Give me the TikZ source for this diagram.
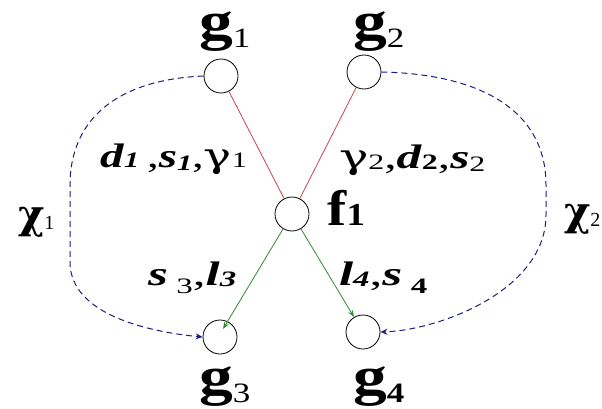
\documentclass[tikz,border=0pt]{standalone}
\usepackage{graphicx}
\usepackage{fontspec}
\setmainfont{Liberation Serif}
\newfontfamily\grk{DejaVu Serif}
\usetikzlibrary{arrows.meta}
\newcommand\fs[1]{\fontsize{#1}{#1}\selectfont}
\newcommand\lsub[2]{\raisebox{-#1}{#2}}
\newcommand\bi[1]{\textbf{\textit{#1}}}
\definecolor{linered}{RGB}{200,70,80}
\definecolor{linegreen}{RGB}{50,140,50}
\definecolor{lineblue}{RGB}{30,30,130}
\begin{document}
\begin{tikzpicture}[x=1pt,y=-1pt,
  gc/.style={circle,draw=black,line width=0.8pt,minimum size=34pt,inner sep=0pt},
  lbl/.style={anchor=base west,inner sep=0pt,outer sep=0pt},
  redline/.style={draw=linered,line width=0.8pt},
  greenarrow/.style={draw=linegreen,line width=0.8pt,-{Stealth[length=7pt,width=5pt]}},
  bluedash/.style={draw=lineblue,line width=1pt,dash pattern=on 6pt off 4pt,-{Stealth[length=7pt,width=6pt]}}]
\useasboundingbox (0,0) rectangle (602,409);
\fill[white] (0,0) rectangle (602,409);
% circles
\node[gc] (g1) at (221,76) {};
\node[gc] (g2) at (364,72) {};
\node[gc] (f1) at (292,214) {};
\node[gc] (g3) at (220,337) {};
\node[gc] (g4) at (363,332) {};
% labels of circles
\node[lbl] (tg1) at (199,40) {\scalebox{1.25}[1]{\fs{54}\textbf{g}\lsub{8pt}{\fs{28}1}}};
\node[lbl] (tg2) at (353,40) {\scalebox{1.25}[1]{\fs{54}\textbf{g}\lsub{8pt}{\fs{28}2}}};
\node[lbl] (tg3) at (199,394) {\scalebox{1.25}[1]{\fs{54}\textbf{g}\lsub{8pt}{\fs{28}3}}};
\node[lbl] (tg4) at (353,394) {\scalebox{1.25}[1]{\fs{54}\textbf{g}\lsub{8pt}{\fs{28}\textbf{4}}}};
\node[lbl] (tf1) at (327,225) {\scalebox{1.15}[1]{\fs{50}\textbf{f}\fs{32}\textbf{1}}};
% edge labels
\node[lbl] (e1) at (100,167) {\scalebox{1.38}[1]{\fs{34}\bi{d}\lsub{1pt}{\fs{22}\bi{1}}\,,\bi{s}\lsub{3pt}{\fs{22}\bi{1}},{\grk γ}\lsub{1pt}{\fs{22}1}}};
\node[lbl] (e2) at (339,168) {\scalebox{1.45}[1]{\fs{34}{\grk γ}\lsub{1pt}{\fs{22}2},\bi{d}\lsub{1pt}{\fs{22}\textbf{2}},\bi{s}\lsub{3pt}{\fs{22}2}}};
\node[lbl] (e3) at (148,285) {\scalebox{1.5}[1]{\fs{34}\bi{s}\,\lsub{8pt}{\fs{22}3},\bi{l}\lsub{1pt}{\fs{22}\bi{3}}}};
\node[lbl] (e4) at (339,285) {\scalebox{1.5}[1]{\fs{34}\bi{l}\lsub{1pt}{\fs{22}\bi{4}},\bi{s}\,\lsub{8pt}{\fs{22}\textbf{4}}}};
\node[lbl] (c1) at (18,228) {\fs{40}{\grk\bfseries χ}\lsub{1pt}{\fs{20}1}};
\node[lbl] (c2) at (564,225) {\fs{40}{\grk\bfseries χ}\lsub{1pt}{\fs{20}2}};
% connectors
\draw[redline] (g1) -- (f1);
\draw[redline] (g2) -- (f1);
\coordinate (t3) at (223,329);
\draw[greenarrow] (f1) -- (t3);
\draw[greenarrow] (f1) -- (g4);
\draw[bluedash] (g1.west) .. controls (110,80) and (70,125) .. (70,185) -- (70,262)
  .. controls (70,315) and (150,332) .. (g3.west);
\draw[bluedash] (g2.east) .. controls (480,74) and (546,110) .. (546,185) -- (546,215)
  .. controls (546,290) and (440,330) .. (g4.east);
\end{tikzpicture}
\end{document}
